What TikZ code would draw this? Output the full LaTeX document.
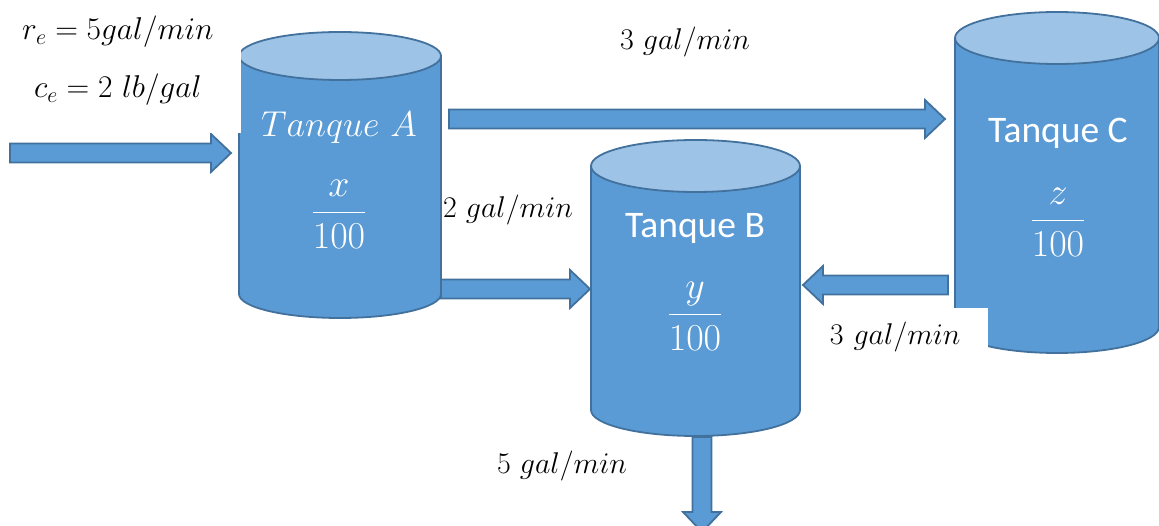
\RequirePackage{fix-cm}
\documentclass[tikz,border=0pt]{standalone}
\usepackage{fontspec}
\usepackage{amsmath}
\usetikzlibrary{calc}

\newfontfamily\calibri{Carlito}

\definecolor{tankbody}{HTML}{5B9BD5}
\definecolor{tanktop}{HTML}{9DC3E6}
\definecolor{tankline}{HTML}{41719C}

% sizes of the fat arrows
\newcommand{\shaftw}{9.5pt}
\newcommand{\headw}{19pt}
\newcommand{\headl}{20pt}

% tank body around a node: name, half width, radius of the ends
\newcommand{\drawtank}[3]{%
  \filldraw[tankline, fill=tankbody, line width=1.8pt] (#1.north west) -- (#1.south west)
    arc[start angle=180, end angle=360, x radius=#2pt, y radius=#3pt] -- (#1.north east);
  \filldraw[tankline, fill=tanktop, line width=1.8pt] (#1.north) ellipse[x radius=#2pt, y radius=#3pt];
}

\begin{document}
\begin{tikzpicture}[x=1pt, y=-1pt,
  tank/.style={rectangle, inner sep=0pt, outer sep=0pt},
  tanktext/.style={text=white, inner sep=0pt},
  rate/.style={font=\fontsize{30}{34}\selectfont, inner sep=2pt},
  blockarrow/.style={draw=tankline, fill=tankbody, line width=1.8pt, line join=miter,
    to path={
      ($(\tikztostart)!\shaftw!90:(\tikztotarget)$)
      -- ($(\tikztotarget)!\headl!(\tikztostart)!\shaftw!90:(\tikztotarget)$)
      -- ($(\tikztotarget)!\headl!(\tikztostart)!\headw!90:(\tikztotarget)$)
      -- (\tikztotarget)
      -- ($(\tikztotarget)!\headl!(\tikztostart)!\headw!-90:(\tikztotarget)$)
      -- ($(\tikztotarget)!\headl!(\tikztostart)!\shaftw!-90:(\tikztotarget)$)
      -- ($(\tikztostart)!\shaftw!-90:(\tikztotarget)$) -- cycle}}]

\useasboundingbox (0,0) rectangle (1159,526);

% the three tanks (node = body between the centres of the two ends)
\node[tank, minimum width=202, minimum height=238] (tankA) at (340,175) {};
\node[tank, minimum width=209, minimum height=244] (tankB) at (695.5,288) {};
\node[tank, minimum width=204, minimum height=289] (tankC) at (1057,182.5) {};
\drawtank{tankA}{101}{24}
\drawtank{tankB}{104.5}{26}
\drawtank{tankC}{102}{26}

% names and concentrations
\node[tanktext, font=\fontsize{36}{40}\selectfont] (nameA) at (339,128) {$Tanque\ A$};
\node[tanktext, font=\fontsize{38}{42}\selectfont] (concA) at (339,214) {$\dfrac{x}{100}$};
\node[tanktext, font=\calibri\fontsize{37.5}{42}\selectfont] (nameB) at (695,228) {Tanque B};
\node[tanktext, font=\fontsize{38}{42}\selectfont] (concB) at (695,316) {$\dfrac{y}{100}$};
\node[tanktext, font=\calibri\fontsize{37.5}{42}\selectfont] (nameC) at (1058,133) {Tanque C};
\node[tanktext, font=\fontsize{38}{42}\selectfont] (concC) at (1058,222) {$\dfrac{z}{100}$};

% arrow end points
\coordinate (inTail) at (10,153);
\coordinate (inTip) at (231,153);
\coordinate (acTail) at (449,119);
\coordinate (acTip) at (945,119);
\coordinate (abTail) at (441,289);
\coordinate (abTip) at (590,289);
\coordinate (cbTail) at (948,285);
\coordinate (cbTip) at (803,285);
\coordinate (outTail) at (702,437);
\coordinate (outTip) at (702,532);

% flows
\draw[blockarrow] (inTail) to (inTip);
\draw[blockarrow] (acTail) to (acTip);
\draw[blockarrow] (abTail) to (abTip);
\draw[blockarrow] (cbTail) to (cbTip);
\draw[blockarrow] (outTail) to (outTip);

% rates
\node[rate, fill=white, align=center, anchor=south east, minimum width=246, minimum height=144,
  font=\fontsize{31.5}{58}\selectfont] (inflow) at (241,133)
  {$r_e = 5gal/min$\\$c_e = 2\ lb/gal$};
\node[rate] (rateAC) at (685,42) {$3\ gal/min$};
\node[rate] (rateAB) at (508,210) {$2\ gal/min$};
\node[rate, fill=white, anchor=north east, text width=156, align=left, minimum height=58]
  (rateCB) at (988,308) {$3\ gal/min$};
\node[rate] (rateOut) at (562,466) {$5\ gal/min$};

\end{tikzpicture}
\end{document}
